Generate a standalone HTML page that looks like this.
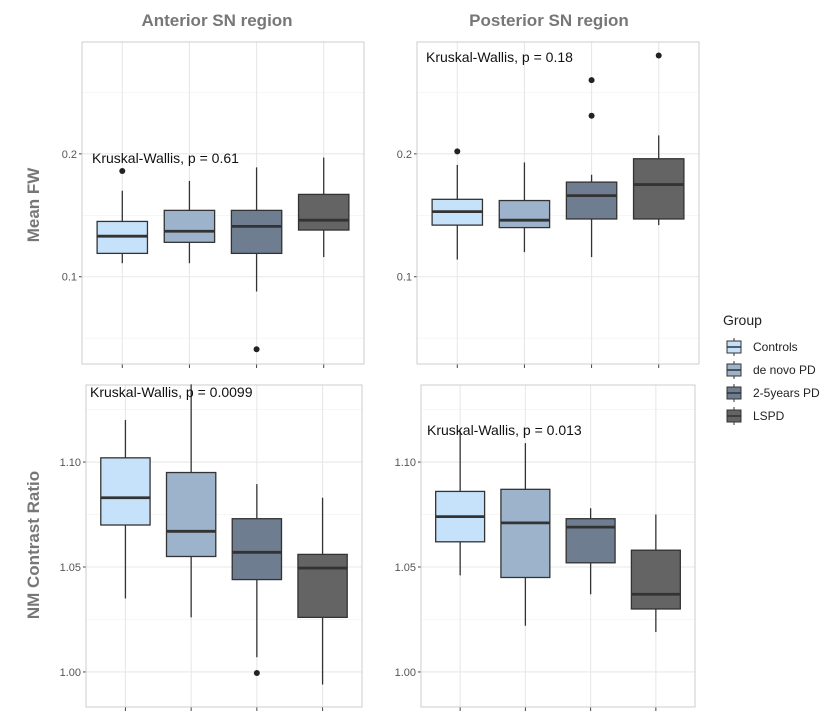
<!DOCTYPE html>
<html><head><meta charset="utf-8"><style>
body{margin:0;background:#fff;}
svg{display:block;font-family:"Liberation Sans",Arial,sans-serif;}
</style></head><body>
<svg id="chart" width="839" height="719">
<text x="217" y="26" text-anchor="middle" font-size="17" font-weight="bold" fill="#777">Anterior SN region</text>
<text x="549" y="26" text-anchor="middle" font-size="17" font-weight="bold" fill="#777">Posterior SN region</text>
<text transform="translate(39,205) rotate(-90)" text-anchor="middle" font-size="17" font-weight="bold" fill="#777">Mean FW</text>
<text transform="translate(39,545) rotate(-90)" text-anchor="middle" font-size="17" font-weight="bold" fill="#777">NM Contrast Ratio</text>
<g id="legend">
<text x="723" y="325" font-size="14" fill="#222">Group</text>
</g>
</svg>
<script>
const groups = ["Controls","de novo PD","2-5years PD","LSPD"];
const colors = ["#c6e2fb","#9db3cc","#6e7e90","#646464"];
// [low, q1, median, q3, high]
const fwAnterior = [[0.111,0.119,0.133,0.145,0.170],[0.111,0.128,0.137,0.154,0.178],[0.088,0.119,0.141,0.154,0.189],[0.116,0.138,0.146,0.167,0.197]];
const fwAnteriorOut = [[0.186],[],[0.041],[]];
const fwPosterior = [[0.114,0.142,0.153,0.163,0.191],[0.120,0.140,0.146,0.162,0.193],[0.116,0.147,0.166,0.177,0.183],[0.142,0.147,0.175,0.196,0.215]];
const fwPosteriorOut = [[0.202],[],[0.231,0.260],[0.280]];
const nmAnterior = [[1.035,1.070,1.083,1.102,1.120],[1.026,1.055,1.067,1.095,1.137],[1.007,1.044,1.057,1.073,1.0895],[0.994,1.026,1.0495,1.056,1.083]];
const nmAnteriorOut = [[],[],[0.9995],[]];
const nmPosterior = [[1.046,1.062,1.074,1.086,1.115],[1.022,1.045,1.071,1.087,1.109],[1.037,1.052,1.069,1.073,1.078],[1.019,1.030,1.037,1.058,1.075]];
const nmPosteriorOut = [[],[],[],[]];
const fwTicks = [0.1,0.2], fwMinor = [0.05,0.15,0.25];
const nmTicks = [1.00,1.05,1.10], nmMinor = [1.025,1.075,1.125];
const pLabels = ["Kruskal-Wallis, p = 0.61","Kruskal-Wallis, p = 0.18","Kruskal-Wallis, p = 0.0099","Kruskal-Wallis, p = 0.013"];

const svg = document.getElementById('chart');
const NS = "http://www.w3.org/2000/svg";
function mk(tag, attrs, parent){const e=document.createElementNS(NS,tag);for(const k in attrs)e.setAttribute(k,attrs[k]);(parent||svg).appendChild(e);return e;}

function panel(name, box, yMin, yMax, ticks, minor, fmt, stats, outs, label, lx, ly){
  const g = mk('g',{});
  
  
  const [x0,y0,x1,y1] = box;
  const ys = v => y1 - (v - yMin)/(yMax - yMin)*(y1 - y0);
  const unit = (x1-x0)/(groups.length - 1 + 1.2);
  const xs = i => x0 + unit*(0.6 + i);
  const bw = unit*0.75;
  minor.forEach(v=>{mk('line',{x1:x0,x2:x1,y1:ys(v),y2:ys(v),stroke:'#f0f0f0','stroke-width':0.6},g);});
  ticks.forEach(v=>{mk('line',{x1:x0,x2:x1,y1:ys(v),y2:ys(v),stroke:'#e8e8e8','stroke-width':1.1},g);
    mk('line',{x1:x0-3,x2:x0,y1:ys(v),y2:ys(v),stroke:'#444'},g);
    const t=mk('text',{x:x0-5,y:ys(v)+4,'text-anchor':'end','font-size':11,fill:'#555'},g);t.textContent=fmt(v);
    
    });
  groups.forEach((_,i)=>{mk('line',{x1:xs(i),x2:xs(i),y1:y0,y2:y1,stroke:'#e8e8e8','stroke-width':1.1},g);
    mk('line',{x1:xs(i),x2:xs(i),y1:y1,y2:y1+4,stroke:'#444'},g);});
  mk('rect',{x:x0,y:y0,width:x1-x0,height:y1-y0,fill:'none',stroke:'#ccc'},g);
  stats.forEach((s,i)=>{
    const c=xs(i);
    const b=mk('g',{},g);
    
    
    mk('line',{x1:c,x2:c,y1:ys(s[4]),y2:ys(s[3]),stroke:'#333','stroke-width':1.3},b);
    mk('line',{x1:c,x2:c,y1:ys(s[1]),y2:ys(s[0]),stroke:'#333','stroke-width':1.3},b);
    mk('rect',{x:c-bw/2,y:ys(s[3]),width:bw,height:ys(s[1])-ys(s[3]),fill:colors[i],stroke:'#333','stroke-width':1.3},b);
    mk('line',{x1:c-bw/2,x2:c+bw/2,y1:ys(s[2]),y2:ys(s[2]),stroke:'#333','stroke-width':2.8},b);
    outs[i].forEach(o=>{mk('circle',{cx:c,cy:ys(o),r:3,fill:'#222'},b);});
  });
  const t=mk('text',{x:lx,y:ly,'font-size':14,fill:'#111'},g);t.textContent=label;
  
  
}
const f1=v=>v.toFixed(1), f2=v=>v.toFixed(2);
panel('panel-anterior-fw',[82,42,364,364],0.029,0.291,fwTicks,fwMinor,f1,fwAnterior,fwAnteriorOut,pLabels[0],92,163);
panel('panel-posterior-fw',[417,42,699,364],0.029,0.291,fwTicks,fwMinor,f1,fwPosterior,fwPosteriorOut,pLabels[1],426,62);
panel('panel-anterior-nm',[86,385,362,707],0.9833,1.1367,nmTicks,nmMinor,f2,nmAnterior,nmAnteriorOut,pLabels[2],90,397);
panel('panel-posterior-nm',[421,385,695,707],0.9833,1.1367,nmTicks,nmMinor,f2,nmPosterior,nmPosteriorOut,pLabels[3],427,435);

const lg=document.getElementById('legend');
groups.forEach((gname,i)=>{
  const cy=347+i*23;
  const e=mk('g',{},lg);
  
  
  mk('line',{x1:734,x2:734,y1:cy-9,y2:cy+9,stroke:'#333','stroke-width':1},e);
  mk('rect',{x:727,y:cy-6,width:14,height:12,fill:colors[i],stroke:'#333','stroke-width':1},e);
  mk('line',{x1:727,x2:741,y1:cy,y2:cy,stroke:'#333','stroke-width':1.5},e);
  const t=mk('text',{x:753,y:cy+4,'font-size':12,fill:'#222'},e);t.textContent=gname;
});
</script>
</body></html>
